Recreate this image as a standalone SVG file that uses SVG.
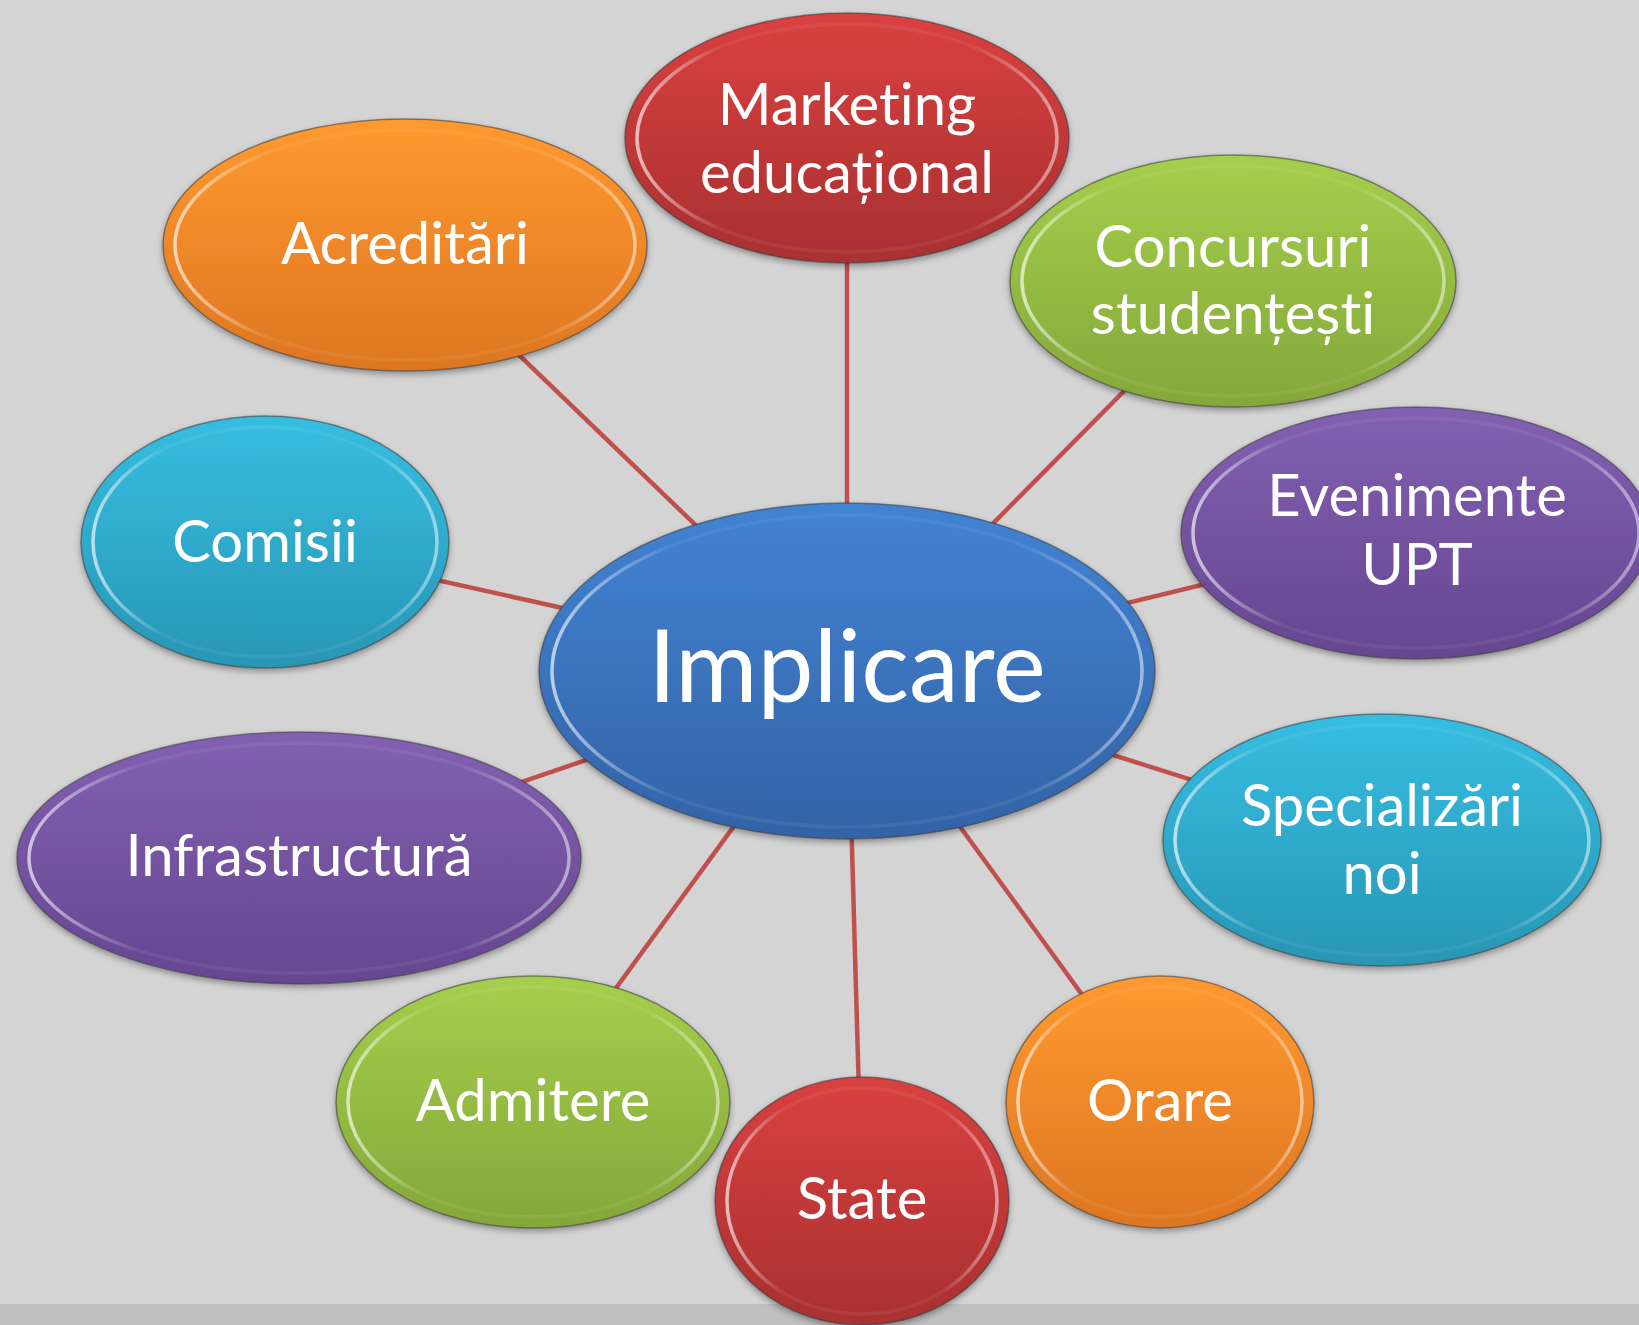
<svg xmlns="http://www.w3.org/2000/svg" width="1639" height="1325" viewBox="0 0 1639 1325">
<style>
  .lbl { font-family: Lato, "Open Sans", "Liberation Sans", sans-serif; fill: #ffffff; text-anchor: middle; font-size: 58px; font-variant-ligatures: none; font-feature-settings: "liga" 0, "clig" 0; }
  .big { font-size: 100px; }
  .edge { stroke: #c0504d; stroke-width: 4.5; }
  .outer { stroke: #3a3a3a; stroke-opacity: 0.55; stroke-width: 1.5; filter: url(#shadow); }
  .rim { fill: none; stroke: url(#rim); stroke-width: 3.5; }
</style>
<defs>
  <filter id="shadow" x="-10%" y="-10%" width="120%" height="125%">
    <feDropShadow dx="0" dy="3" stdDeviation="3" flood-color="#000" flood-opacity="0.35"/>
  </filter>
  <linearGradient id="rim" x1="0" y1="0" x2="1" y2="0">
    <stop offset="0" stop-color="#fff" stop-opacity="0.65"/>
    <stop offset="0.2" stop-color="#fff" stop-opacity="0.06"/>
    <stop offset="0.8" stop-color="#fff" stop-opacity="0.06"/>
    <stop offset="1" stop-color="#fff" stop-opacity="0.5"/>
  </linearGradient>
  <linearGradient id="gBlue" x1="0" y1="0" x2="0" y2="1">
    <stop offset="0" stop-color="#4283d3"/>
    <stop offset="1" stop-color="#3363a6"/>
  </linearGradient>
  <linearGradient id="gRed" x1="0" y1="0" x2="0" y2="1">
    <stop offset="0" stop-color="#da4040"/>
    <stop offset="1" stop-color="#a83030"/>
  </linearGradient>
  <linearGradient id="gOrange" x1="0" y1="0" x2="0" y2="1">
    <stop offset="0" stop-color="#ff9a30"/>
    <stop offset="1" stop-color="#dd7622"/>
  </linearGradient>
  <linearGradient id="gGreen" x1="0" y1="0" x2="0" y2="1">
    <stop offset="0" stop-color="#a5cf4c"/>
    <stop offset="1" stop-color="#85a73a"/>
  </linearGradient>
  <linearGradient id="gPurple" x1="0" y1="0" x2="0" y2="1">
    <stop offset="0" stop-color="#8360b2"/>
    <stop offset="1" stop-color="#654690"/>
  </linearGradient>
  <linearGradient id="gCyan" x1="0" y1="0" x2="0" y2="1">
    <stop offset="0" stop-color="#36bee2"/>
    <stop offset="1" stop-color="#2896b4"/>
  </linearGradient>
</defs>
<rect x="0" y="0" width="1639" height="1325" fill="#d4d4d4"/>
<rect x="0" y="1304" width="1639" height="21" fill="#bfbfbf"/>

<g id="connectors">
  <line class="edge" x1="847" y1="671" x2="847" y2="138"/>
  <line class="edge" x1="847" y1="671" x2="405" y2="245"/>
  <line class="edge" x1="847" y1="671" x2="1233" y2="281"/>
  <line class="edge" x1="847" y1="671" x2="265" y2="542"/>
  <line class="edge" x1="847" y1="671" x2="1416" y2="533"/>
  <line class="edge" x1="847" y1="671" x2="299" y2="858"/>
  <line class="edge" x1="847" y1="671" x2="1382" y2="840"/>
  <line class="edge" x1="847" y1="671" x2="533" y2="1102"/>
  <line class="edge" x1="847" y1="671" x2="862" y2="1201"/>
  <line class="edge" x1="847" y1="671" x2="1160" y2="1102"/>
</g>

<g id="node-marketing">
  <ellipse class="outer" cx="847" cy="138" rx="222" ry="125" fill="url(#gRed)"/>
  <ellipse class="rim" cx="847" cy="138" rx="210" ry="114"/>
  <text class="lbl" x="847" y="125">Marketing</text>
  <text class="lbl" x="847" y="193">educațional</text>
</g>

<g id="node-acreditari">
  <ellipse class="outer" cx="405" cy="245" rx="242" ry="126" fill="url(#gOrange)"/>
  <ellipse class="rim" cx="405" cy="245" rx="230" ry="115"/>
  <text class="lbl" x="405" y="264">Acreditări</text>
</g>

<g id="node-concursuri">
  <ellipse class="outer" cx="1233" cy="281" rx="223" ry="126" fill="url(#gGreen)"/>
  <ellipse class="rim" cx="1233" cy="281" rx="211" ry="115"/>
  <text class="lbl" x="1233" y="267">Concursuri</text>
  <text class="lbl" x="1233" y="334">studențești</text>
</g>

<g id="node-comisii">
  <ellipse class="outer" cx="265" cy="542" rx="184" ry="126" fill="url(#gCyan)"/>
  <ellipse class="rim" cx="265" cy="542" rx="172" ry="115"/>
  <text class="lbl" x="265" y="562">Comisii</text>
</g>

<g id="node-evenimente">
  <ellipse class="outer" cx="1416" cy="533" rx="235" ry="126" fill="url(#gPurple)"/>
  <ellipse class="rim" cx="1416" cy="533" rx="223" ry="115"/>
  <text class="lbl" x="1417" y="516">Evenimente</text>
  <text class="lbl" x="1417" y="585">UPT</text>
</g>

<g id="node-infrastructura">
  <ellipse class="outer" cx="299" cy="858" rx="282" ry="126" fill="url(#gPurple)"/>
  <ellipse class="rim" cx="299" cy="858" rx="270" ry="115"/>
  <text class="lbl" x="299" y="876">Infrastructură</text>
</g>

<g id="node-specializari">
  <ellipse class="outer" cx="1382" cy="840" rx="219" ry="126" fill="url(#gCyan)"/>
  <ellipse class="rim" cx="1382" cy="840" rx="207" ry="115"/>
  <text class="lbl" x="1382" y="826">Specializări</text>
  <text class="lbl" x="1382" y="894">noi</text>
</g>

<g id="node-admitere">
  <ellipse class="outer" cx="533" cy="1102" rx="197" ry="126" fill="url(#gGreen)"/>
  <ellipse class="rim" cx="533" cy="1102" rx="185" ry="115"/>
  <text class="lbl" x="533" y="1121">Admitere</text>
</g>

<g id="node-orare">
  <ellipse class="outer" cx="1160" cy="1102" rx="154" ry="126" fill="url(#gOrange)"/>
  <ellipse class="rim" cx="1160" cy="1102" rx="142" ry="115"/>
  <text class="lbl" x="1160" y="1121">Orare</text>
</g>

<g id="node-state">
  <ellipse class="outer" cx="862" cy="1201" rx="147" ry="124" fill="url(#gRed)"/>
  <ellipse class="rim" cx="862" cy="1201" rx="135" ry="113"/>
  <text class="lbl" x="862" y="1219">State</text>
</g>

<g id="node-implicare">
  <ellipse class="outer" cx="847" cy="671" rx="308" ry="168" fill="url(#gBlue)"/>
  <ellipse class="rim" cx="847" cy="671" rx="295" ry="156"/>
  <text class="lbl big" x="847" y="702">Implicare</text>
</g>
</svg>
